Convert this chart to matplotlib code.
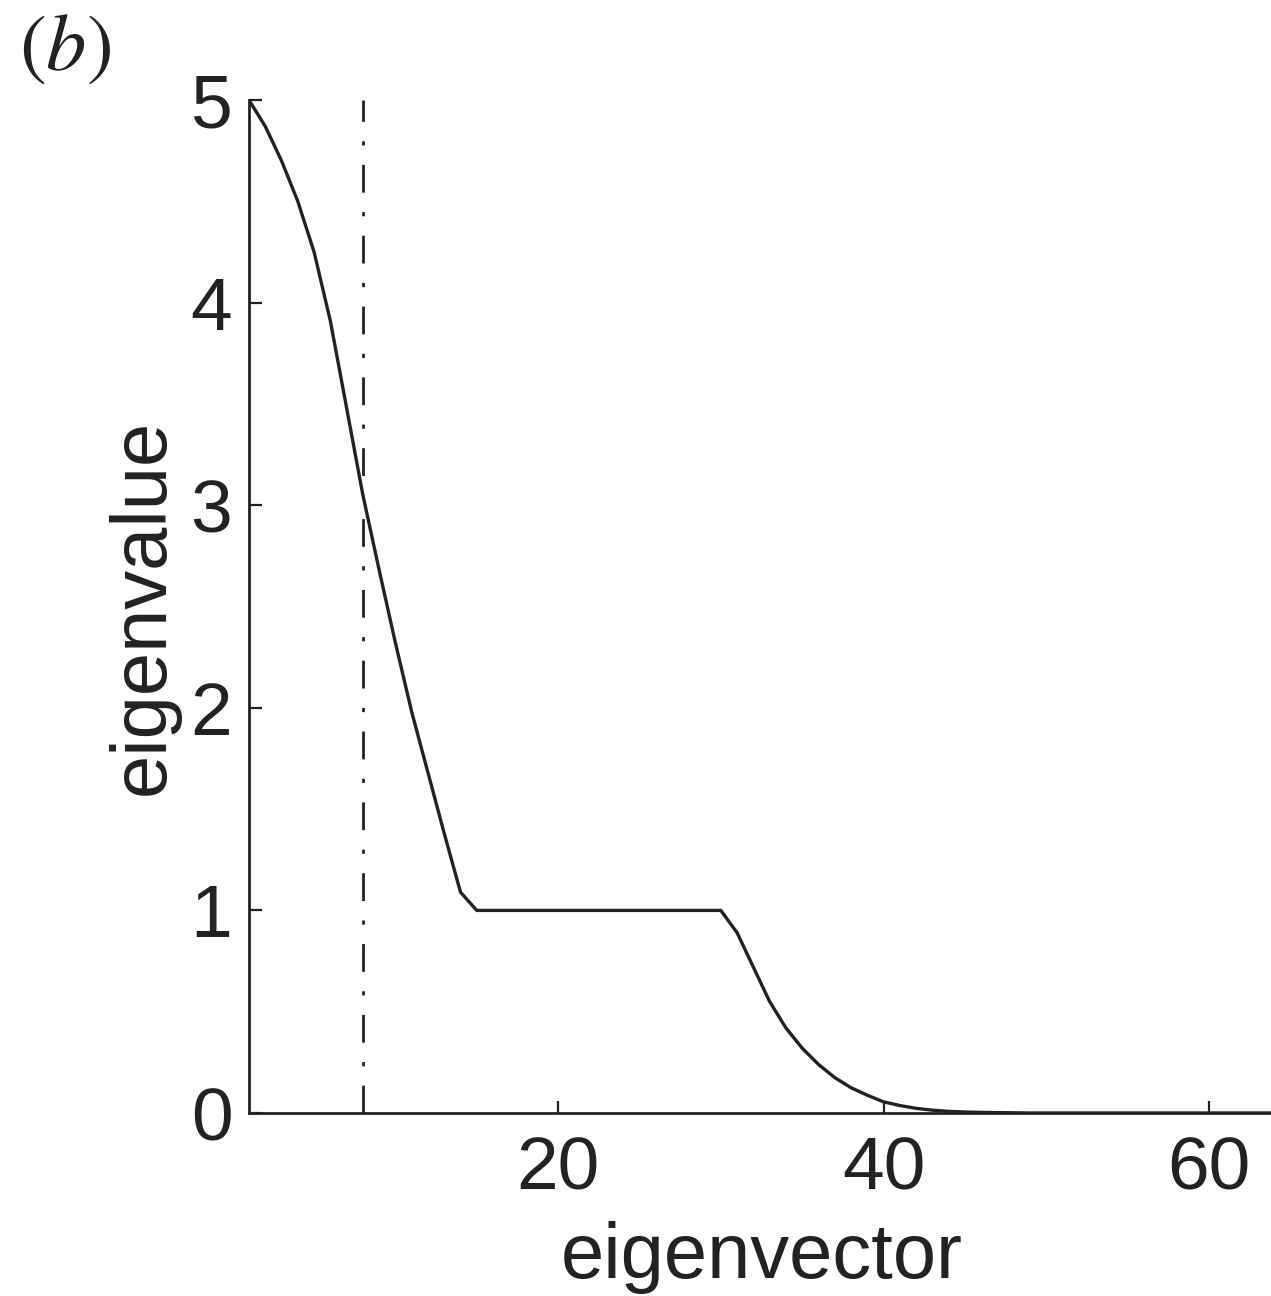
import matplotlib
matplotlib.use("Agg")
import matplotlib.pyplot as plt

plt.rcParams['font.family'] = ['Liberation Sans', 'DejaVu Sans']
plt.rcParams['mathtext.fontset'] = 'stix'

# Data
eigvec_index = list(range(1, 65))
eigenvalues = [5.00, 4.87, 4.70, 4.50, 4.25, 3.91, 3.48, 3.05, 2.68, 2.32,
               1.98, 1.68, 1.38, 1.09, 1.00, 1.00, 1.00, 1.00, 1.00, 1.00,
               1.00, 1.00, 1.00, 1.00, 1.00, 1.00, 1.00, 1.00, 1.00, 1.00,
               0.89, 0.72, 0.55, 0.42, 0.32, 0.24, 0.175, 0.125, 0.088, 0.055,
               0.037, 0.023, 0.014, 0.008, 0.005, 0.003, 0.002, 0.001, 0.0, 0.0,
               0.0, 0.0, 0.0, 0.0, 0.0, 0.0, 0.0, 0.0, 0.0, 0.0,
               0.0, 0.0, 0.0, 0.0]
cutoff_x = 8
cutoff_y = [0, 5]
x_ticks = [20, 40, 60]
y_ticks = [0, 1, 2, 3, 4, 5]
x_label = "eigenvector"
y_label = "eigenvalue"
panel_label = r"$(b)$"

ink = "#222222"

fig = plt.figure(figsize=(12.71, 12.96), dpi=100)
ax = fig.add_axes([249 / 1271, 0.1412, (1274 - 249) / 1271, 0.7816])

ax.plot(eigvec_index, eigenvalues, color=ink, lw=2.4,
        solid_joinstyle='round', solid_capstyle='round')
ax.plot([cutoff_x, cutoff_x], cutoff_y, color=ink, lw=2.0,
        linestyle=(0, (10, 7, 1.5, 7)), clip_on=False)

ax.set_xlim(1, 64)
ax.set_ylim(0, 5)
ax.set_xticks(x_ticks)
ax.set_yticks(y_ticks)
ax.tick_params(direction='in', length=9, width=1.6, colors=ink,
               labelsize=54, top=False, right=False)
ax.tick_params(axis='x', pad=16)
ax.tick_params(axis='y', pad=12)

for side in ['top', 'right']:
    ax.spines[side].set_visible(False)
for side in ['left', 'bottom']:
    ax.spines[side].set_linewidth(2.0)
    ax.spines[side].set_color(ink)
    ax.spines[side].set_clip_on(False)

ax.set_xlabel(x_label, fontsize=56, color=ink, labelpad=12)
ax.set_ylabel(y_label, fontsize=56, color=ink, labelpad=8)

fig.text(0.015, 0.962, panel_label, fontsize=58, color=ink, va='center', ha='left')

fig.savefig("out.png", dpi=100)
